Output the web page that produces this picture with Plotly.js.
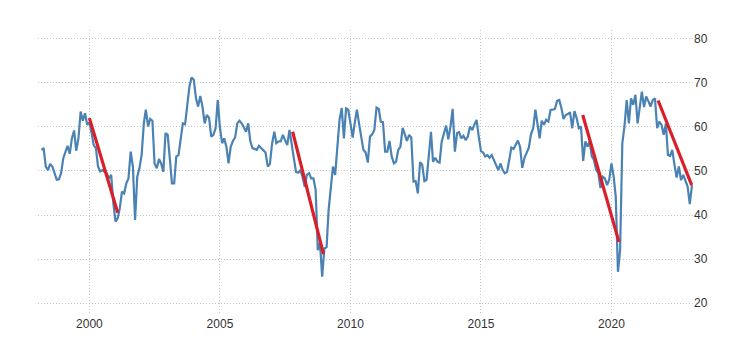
<!DOCTYPE html>
<html>
<head>
<meta charset="utf-8">
<script src="https://cdn.plot.ly/plotly-3.0.1.min.js"></script>
<style>html,body{margin:0;padding:0;background:#fff;}#chart{width:749px;height:357px;}</style>
</head>
<body>
<div id="chart"></div>
<script>
// Monthly series, first value = March 1998
var startYear = 1998, startMonth = 3;
var values = [
  54.8, 55.2, 51.0, 50.2, 51.6, 51.0, 49.5, 48.0, 48.1, 49.5,
  52.9, 54.3, 55.7, 53.9, 57.4, 59.2, 54.6, 57.4, 63.5, 61.4, 63.1, 60.5,
  61.0, 58.6, 55.9, 55.2, 51.0, 49.9, 50.2, 49.8, 49.5, 48.3, 49.1, 42.7,
  38.5, 39.3, 41.5, 45.3, 44.9, 47.2, 48.3, 54.4, 51.0, 38.9, 48.7, 50.6,
  53.6, 60.8, 63.9, 60.1, 61.8, 61.4, 51.7, 50.6, 52.7, 51.7, 49.8, 58.6,
  58.2, 52.5, 47.2, 47.2, 53.3, 53.6, 56.7, 60.8, 60.6, 65.0, 69.2, 71.2,
  70.7, 66.5, 64.6, 67.0, 64.6, 60.8, 62.7, 62.1, 57.8, 58.2, 59.7, 66.1,
  59.7, 56.3, 57.4, 55.5, 51.7, 55.5, 56.8, 57.6, 60.8, 61.4, 60.8, 59.9,
  58.9, 60.8, 56.8, 55.2, 55.0, 54.8, 55.7, 55.2, 54.7, 54.2, 51.0, 51.6,
  56.3, 58.9, 56.3, 56.7, 56.7, 58.2, 57.0, 55.9, 59.3, 56.3, 53.6, 49.8,
  49.6, 50.2, 48.7, 46.4, 49.1, 49.5, 48.3, 48.3, 45.7, 32.0, 33.6, 26.0,
  32.4, 32.7, 41.1, 45.7, 51.0, 49.1, 56.3, 61.6, 64.3, 57.4, 64.2, 63.9,
  60.8, 57.6, 60.8, 63.9, 60.8, 57.8, 54.8, 54.2, 51.9, 57.8, 58.3, 59.3,
  64.4, 64.1, 61.2, 61.1, 54.4, 54.4, 56.8, 53.3, 51.7, 52.1, 54.8, 55.5,
  59.8, 58.3, 56.8, 58.2, 57.6, 47.6, 47.7, 44.9, 52.0, 51.4, 47.7, 48.0,
  53.3, 58.9, 52.1, 53.0, 52.1, 51.9, 56.7, 58.3, 60.3, 57.2, 60.1, 64.1,
  54.4, 58.6, 58.8, 57.4, 58.0, 57.0, 57.8, 60.1, 59.3, 60.5, 61.6, 57.8,
  54.5, 54.2, 53.3, 53.6, 53.0, 53.6, 52.5, 51.0, 50.2, 51.7, 50.2, 49.5,
  49.8, 52.5, 55.3, 55.0, 55.8, 56.9, 55.5, 50.7, 53.0, 54.2, 55.3, 58.3,
  59.7, 63.9, 60.8, 57.4, 61.4, 60.5, 61.6, 61.2, 63.9, 63.9, 64.1, 65.9,
  66.1, 64.2, 61.8, 62.7, 62.9, 63.3, 59.7, 63.6, 62.0, 59.7, 60.1, 52.3,
  56.7, 55.5, 56.7, 53.3, 52.5, 50.2, 49.6, 46.1, 48.7, 48.3, 46.8, 48.1,
  51.7, 48.7, 44.2, 27.1, 32.0, 56.3, 60.1, 66.1, 60.8, 66.5, 65.0, 67.3,
  60.8, 65.4, 68.0, 64.5, 66.9, 65.8, 64.6, 66.1, 66.5, 59.7, 61.2, 60.5,
  58.2, 60.8, 53.6, 53.4, 54.8, 51.4, 48.5, 51.0, 47.9, 49.1, 47.9, 46.5,
  42.5, 46.8
];

// Downtrend lines: start/end dates and values
var trendStartDates = ['2000-01-01', '2007-10-15', '2018-11-25', '2021-10-15'];
var trendStartValues = [62.0, 58.9, 62.7, 66.0];
var trendEndDates   = ['2001-02-01', '2008-12-20', '2020-04-15', '2023-01-28'];
var trendEndValues  = [40.5, 31.1, 33.9, 46.8];

var xTickYears = [2000, 2005, 2010, 2015, 2020];
var yTicks = [20, 30, 40, 50, 60, 70, 80];

function pad(n){ return (n < 10 ? '0' : '') + n; }
var dates = values.map(function(v, i){
  var m = startMonth - 1 + i;
  var y = startYear + Math.floor(m / 12);
  return y + '-' + pad(m % 12 + 1) + '-01';
});

var traces = [{
  x: dates, y: values, type: 'scatter', mode: 'lines',
  line: {color: '#4a82b4', width: 2.2}, hoverinfo: 'x+y', showlegend: false
}];
for (var i = 0; i < trendStartDates.length; i++) {
  traces.push({
    x: [trendStartDates[i], trendEndDates[i]],
    y: [trendStartValues[i], trendEndValues[i]],
    type: 'scatter', mode: 'lines',
    line: {color: '#d9202a', width: 3.2}, showlegend: false
  });
}

var layout = {
  width: 749, height: 357,
  margin: {l: 38, r: 56, t: 30, b: 42},
  paper_bgcolor: '#ffffff', plot_bgcolor: '#ffffff',
  font: {family: 'Liberation Sans, Arial, sans-serif', size: 12, color: '#333333'},
  showlegend: false,
  xaxis: {
    type: 'date',
    range: ['1998-01-12', '2023-02-15'],
    tickvals: xTickYears.map(function(y){ return y + '-01-01'; }),
    ticktext: xTickYears.map(String),
    showgrid: true, gridcolor: '#c4c4c4', griddash: '1px,2px', gridwidth: 1,
    zeroline: false, showline: false, ticks: '',
    tickfont: {size: 12, color: '#333333'}
  },
  yaxis: {
    side: 'right',
    range: [17.3, 82],
    tickvals: yTicks,
    showgrid: true, gridcolor: '#c4c4c4', griddash: '1px,2px', gridwidth: 1,
    zeroline: false, showline: false, ticks: '',
    tickfont: {size: 12, color: '#333333'}
  }
};

Plotly.newPlot('chart', traces, layout, {displayModeBar: false, staticPlot: true});
</script>
</body>
</html>
